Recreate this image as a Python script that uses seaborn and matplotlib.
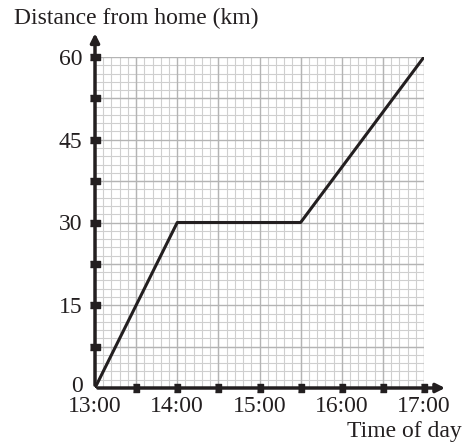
import numpy as np
import pandas as pd
import matplotlib
matplotlib.use("Agg")
import matplotlib.pyplot as plt
from matplotlib.ticker import MultipleLocator
from matplotlib.transforms import ScaledTranslation
import seaborn as sns

# journey data: hours after midnight vs distance from home
times = [13.0, 14.0, 15.5, 17.0]
distances = [0, 30, 30, 60]
x_tick_labels = ["13:00", "14:00", "15:00", "16:00", "17:00"]
y_tick_values = [0, 15, 30, 45, 60]

sns.set_style("white")
plt.rcParams['font.family'] = ['Liberation Serif', 'DejaVu Serif']

ink = "#231f20"

fig = plt.figure(figsize=(4.69, 4.45), dpi=100)
ax = fig.add_axes([95 / 469, 57 / 445, 329 / 469, 331 / 445])

df = pd.DataFrame({"time": times, "distance": distances})
sns.lineplot(data=df, x="time", y="distance", color=ink, linewidth=2.2, ax=ax, zorder=5)

ax.set_xlim(13, 17)
ax.set_ylim(0, 60)

# graph paper grid
ax.xaxis.set_minor_locator(MultipleLocator(0.1))
ax.yaxis.set_minor_locator(MultipleLocator(1.5))
ax.grid(which="minor", color="#cfcfcf", linewidth=0.8, zorder=0)
for v in np.arange(13, 17.01, 0.5):
    ax.axvline(v, color="#b4b4b4", linewidth=1.0, zorder=1)
for v in np.arange(0, 60.01, 7.5):
    ax.axhline(v, color="#b4b4b4", linewidth=1.0, zorder=1)

for s in ax.spines.values():
    s.set_visible(False)

# axis lines with arrows
ax.annotate("", xy=(13, 64.8), xytext=(13, 0), xycoords="data",
            arrowprops=dict(arrowstyle="-|>", color=ink, lw=2.5, mutation_scale=13),
            annotation_clip=False, zorder=6)
ax.annotate("", xy=(17.29, 0), xytext=(13, 0), xycoords="data",
            arrowprops=dict(arrowstyle="-|>", color=ink, lw=2.5, mutation_scale=13),
            annotation_clip=False, zorder=6)

# rectangular tick marks every half step
x_mark = [(-0.8, -1), (0.8, -1), (0.8, 1), (-0.8, 1)]
y_mark = [(-1.5, -1), (1.5, -1), (1.5, 1), (-1.5, 1)]
ax.plot(np.arange(13.5, 17.01, 0.5), np.zeros(8), linestyle="none", marker=x_mark,
        color=ink, markersize=5.2, clip_on=False, zorder=7)
ax.plot(np.full(8, 13.0), np.arange(7.5, 60.01, 7.5), linestyle="none", marker=y_mark,
        color=ink, markersize=6.6, clip_on=False, zorder=7)

ax.set_xticks([13, 14, 15, 16, 17])
ax.set_xticklabels(x_tick_labels, fontsize=17, color=ink)
ax.set_yticks(y_tick_values)
ax.set_yticklabels([str(v) for v in y_tick_values], fontsize=17, color=ink)
ax.tick_params(which="both", length=0)
ax.tick_params(axis="x", pad=6)
ax.tick_params(axis="y", pad=9)
ax.set_xlabel("")
ax.set_ylabel("")

# lift the "0" label a little, as in the original
zero_lbl = ax.get_yticklabels()[0]
zero_lbl.set_transform(zero_lbl.get_transform() + ScaledTranslation(0, 3 / 72, fig.dpi_scale_trans))

fig.text(14 / 469, 1 - 18 / 445, "Distance from home (km)", fontsize=17, color=ink,
         ha="left", va="center")
fig.text(462 / 469, 1 - 432 / 445, "Time of day", fontsize=17, color=ink,
         ha="right", va="center")

fig.savefig("out.png", dpi=100)
